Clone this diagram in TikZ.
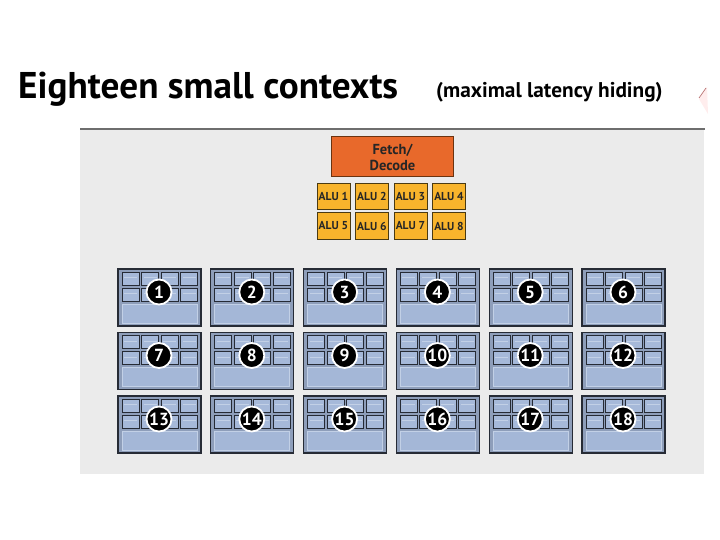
\documentclass[tikz,border=0pt]{standalone}
\usepackage{fontspec}
\newfontfamily\ptsans{PT Sans}
\definecolor{panel}{HTML}{EBEBEB}
\definecolor{panelline}{HTML}{6E6E6E}
\definecolor{ctxfill}{HTML}{8E9EBA}
\definecolor{cellfill}{HTML}{A6B9D9}
\definecolor{boxfill}{HTML}{A4B7D7}
\definecolor{boxedge}{HTML}{C2D0E6}
\definecolor{ctxedge}{HTML}{262B35}
\definecolor{fetch}{HTML}{E8692B}
\definecolor{fetchedge}{HTML}{6B3310}
\definecolor{alu}{HTML}{F8B42C}
\definecolor{aluedge}{HTML}{4A3A12}
\tikzset{
  fetchbox/.style={draw=fetchedge, fill=fetch, line width=1pt, minimum width=122pt, minimum height=40pt, inner sep=0pt, align=center, text=black!85, font=\ptsans\bfseries\fontsize{14.5}{16}\selectfont},
  alubox/.style={draw=aluedge, fill=alu, line width=1pt, minimum width=33pt, minimum height=26pt, inner sep=0pt, text=black!85, font=\ptsans\bfseries\fontsize{11.5}{11.5}\selectfont},
  numdot/.style={circle, fill=black, draw=white, line width=1.8pt, minimum size=25pt, inner sep=0pt, text=white, font=\ptsans\bfseries\fontsize{17.5}{17.5}\selectfont},
  pics/ctx/.style={code={
    \draw[ctxedge, line width=1.3pt, fill=ctxfill] (0,0) rectangle (83,57);
    \foreach \i in {0,...,3}{
      \foreach \j in {0,1}{
        \draw[ctxedge, line width=0.9pt, fill=cellfill] ({4+19.5*\i},{3+16*\j}) rectangle ++(17,13);
        \draw[boxedge, line width=0.4pt] ({6+19.5*\i},{8.5+16*\j}) -- ++(13,0);
      }
    }
    \draw[boxedge, line width=0.8pt, fill=boxfill] (4,35) rectangle (79,54);
    \node[numdot] (-num) at (41,23) {#1};
  }}
}
\begin{document}
\begin{tikzpicture}[x=1pt,y=-1pt]
\useasboundingbox (0,0) rectangle (720,540);
\fill[white] (0,0) rectangle (720,540);
% title
\node[anchor=base west, inner sep=0pt, font=\ptsans\bfseries\fontsize{37.2}{40}\selectfont] (title) at (18,99) {Eighteen small contexts};
\node[anchor=base west, inner sep=0pt, font=\ptsans\bfseries\fontsize{21.3}{22}\selectfont] (subtitle) at (436,98) {(maximal latency hiding)};
% faint red mark at right edge
\fill[red!7] (699,99) -- (707,87) -- (708,114) -- cycle;
\draw[red!50!black!55, line width=0.7pt] (699,98) -- (706,88);
% panel
\fill[panel] (80,129) rectangle (704,474);
\draw[panelline, line width=1.2pt] (80,129) -- (705,129);
% fetch/decode and ALUs
\node[fetchbox] (fd) at (392.5,157) {Fetch/\\Decode};
\foreach \a [count=\i from 0] in {1,2,3,4}{
  \node[alubox] (alu\a) at ({333.5+38.5*\i},196.5) {ALU \a};
}
\foreach \a [count=\i from 0] in {5,6,7,8}{
  \node[alubox] (alu\a) at ({333.5+38.5*\i},226) {ALU \a};
}
% contexts
\foreach \k in {0,...,17}{
  \pgfmathtruncatemacro\col{mod(\k,6)}
  \pgfmathtruncatemacro\row{\k/6}
  \pgfmathtruncatemacro\num{\k+1}
  \pic (c\num) at ({118+92.8*\col},{269+63.5*\row}) {ctx=\num};
}
\end{tikzpicture}
\end{document}
